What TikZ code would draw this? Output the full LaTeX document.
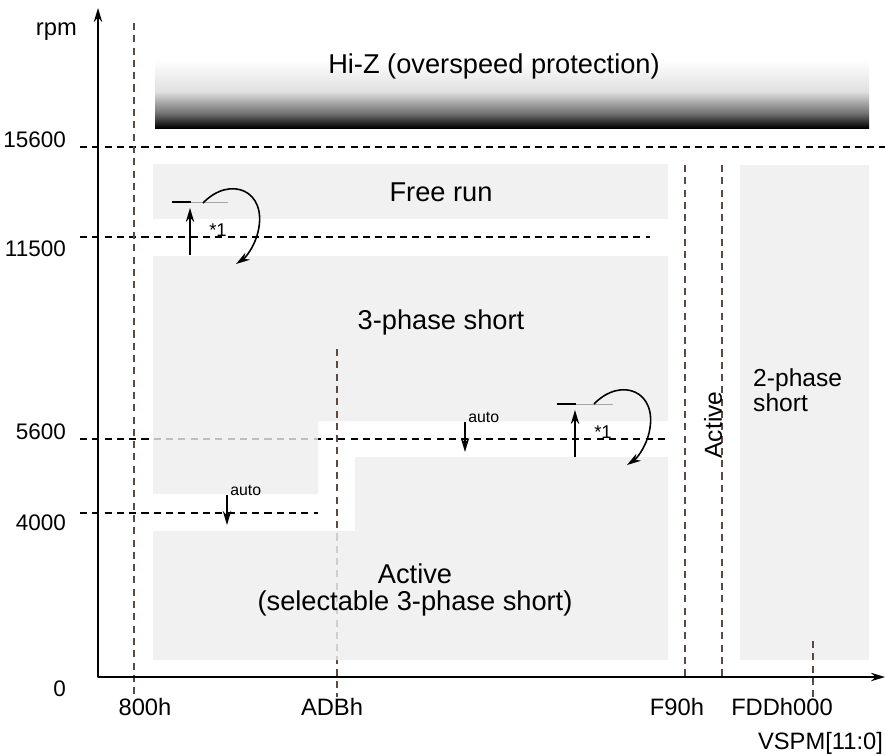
\documentclass[tikz,border=0pt]{standalone}
\usepackage{fontspec}
\setmainfont{Liberation Sans}
\usetikzlibrary{arrows.meta}
\definecolor{regfill}{HTML}{EEEEEE}
\definecolor{tickline}{HTML}{5A4A42}
\pgfdeclareverticalshading{hizshade}{100bp}{color(0bp)=(black); color(25bp)=(black); color(36bp)=(black!55); color(52bp)=(black!12); color(75bp)=(white); color(100bp)=(white)}
\tikzset{
  region/.style={fill=regfill,fill opacity=0.8},
  lvl/.style={dash pattern=on 4pt off 3pt,line width=0.6pt},
  vsp/.style={tickline,dash pattern=on 4pt off 3pt,line width=0.6pt},
  lbl/.style={font=\fontsize{15.5}{15.5}\selectfont,align=center},
  axlbl/.style={font=\fontsize{13.5}{16}\selectfont},
  small/.style={font=\fontsize{9}{10}\selectfont},
}
\begin{document}
\begin{tikzpicture}[>={Stealth[length=8pt,width=4.8pt]},line join=round,x=0.02cm,y=-0.02cm]
            \useasboundingbox (0,0) rectangle (885,754);
            % rpm levels
            \draw[lvl] (80,147)--(885,147);
            \draw[lvl] (80,237)--(650,237);
            \draw[lvl] (80,439)--(668,439);
            \draw[lvl] (80,513)--(318,513);
            % VSPM marks
            \draw[vsp] (134,23)--(134,697);
            \draw[vsp] (337,349)--(337,697);
            \draw[vsp] (685,165)--(685,677);
            \draw[vsp] (722,165)--(722,677);
            % regions
            \shade[shading=hizshade] (155,60) rectangle (869,128);
            \fill[region] (153,164) rectangle (668,219);
            \fill[region] (153,256)--(668,256)--(668,421)--(318,421)--(318,494)--(153,494)--cycle;
            \fill[region] (153,531)--(355,531)--(355,457)--(668,457)--(668,660)--(153,660)--cycle;
            \fill[region] (740,165) rectangle (869,660);
            \draw[vsp] (337,349)--(337,421);
            \draw[vsp] (813,641)--(813,697);
            % axes
            \coordinate (ytip) at (98,8);
            \coordinate (xtip) at (885,677);
            \draw[<->,line width=1pt] (ytip) |- (xtip);
            \node[axlbl,anchor=east] (rpm) at (83,32) {rpm};
            \foreach \v/\y in {15600/140,11500/249,5600/432,4000/523,0/689}
              \node[axlbl,font=\fontsize{12.8}{15}\selectfont,anchor=east] (y\v) at (72,\y) {\v};
            \foreach \t/\x in {800h/145,ADBh/332,F90h/677,FDDh000/782}
              \node[axlbl] (x\t) at (\x,707) {\t};
            \node[axlbl,anchor=east,inner xsep=1pt] (vspm) at (885,743) {VSPM[11:0]};
            % region labels
            \node[lbl] (hiz) at (494,66) {Hi-Z (overspeed protection)};
            \node[lbl] (free) at (441,192) {Free run};
            \node[lbl] (short3) at (441,322) {3-phase short};
            \node[lbl] (act) at (415,590) {Active\\(selectable 3-phase short)};
            \node[font=\fontsize{14}{14}\selectfont,align=left,anchor=west] (short2) at (747,390) {2-phase\\short};
            \node[font=\fontsize{14}{14}\selectfont,rotate=90] (act2) at (713,425) {Active};
            % hysteresis
            \foreach \gx/\gy/\ax/\dx/\dy in {172/202/190/0/0,557/404/575/391/201}{
              \draw[line width=1.6pt] (\gx,\gy)--++(19,0);
              \draw[gray!70,line width=0.5pt] (\gx+19,\gy)--++(37,0);
              \draw[->,line width=0.9pt] (\ax,\gy+53)--(\ax,\gy+6);
              \node[small,font=\fontsize{10.5}{10}\selectfont] at (\ax+28,\gy+28) {*1};
              \draw[->,line width=0.9pt,shift={(\dx,\dy)}] (203,203)
              .. controls (230,175) and (268,190) .. (258,232)
              .. controls (254,248) and (245,258) .. (236,264);
            }
            \foreach \ax/\ay in {227/495,465/422}{
              \draw[->,line width=0.9pt] (\ax,\ay)--++(0,30);
              \node[small,anchor=base west,inner sep=0pt] at (\ax+3,\ay) {auto};
            }
        \end{tikzpicture}
\end{document}
